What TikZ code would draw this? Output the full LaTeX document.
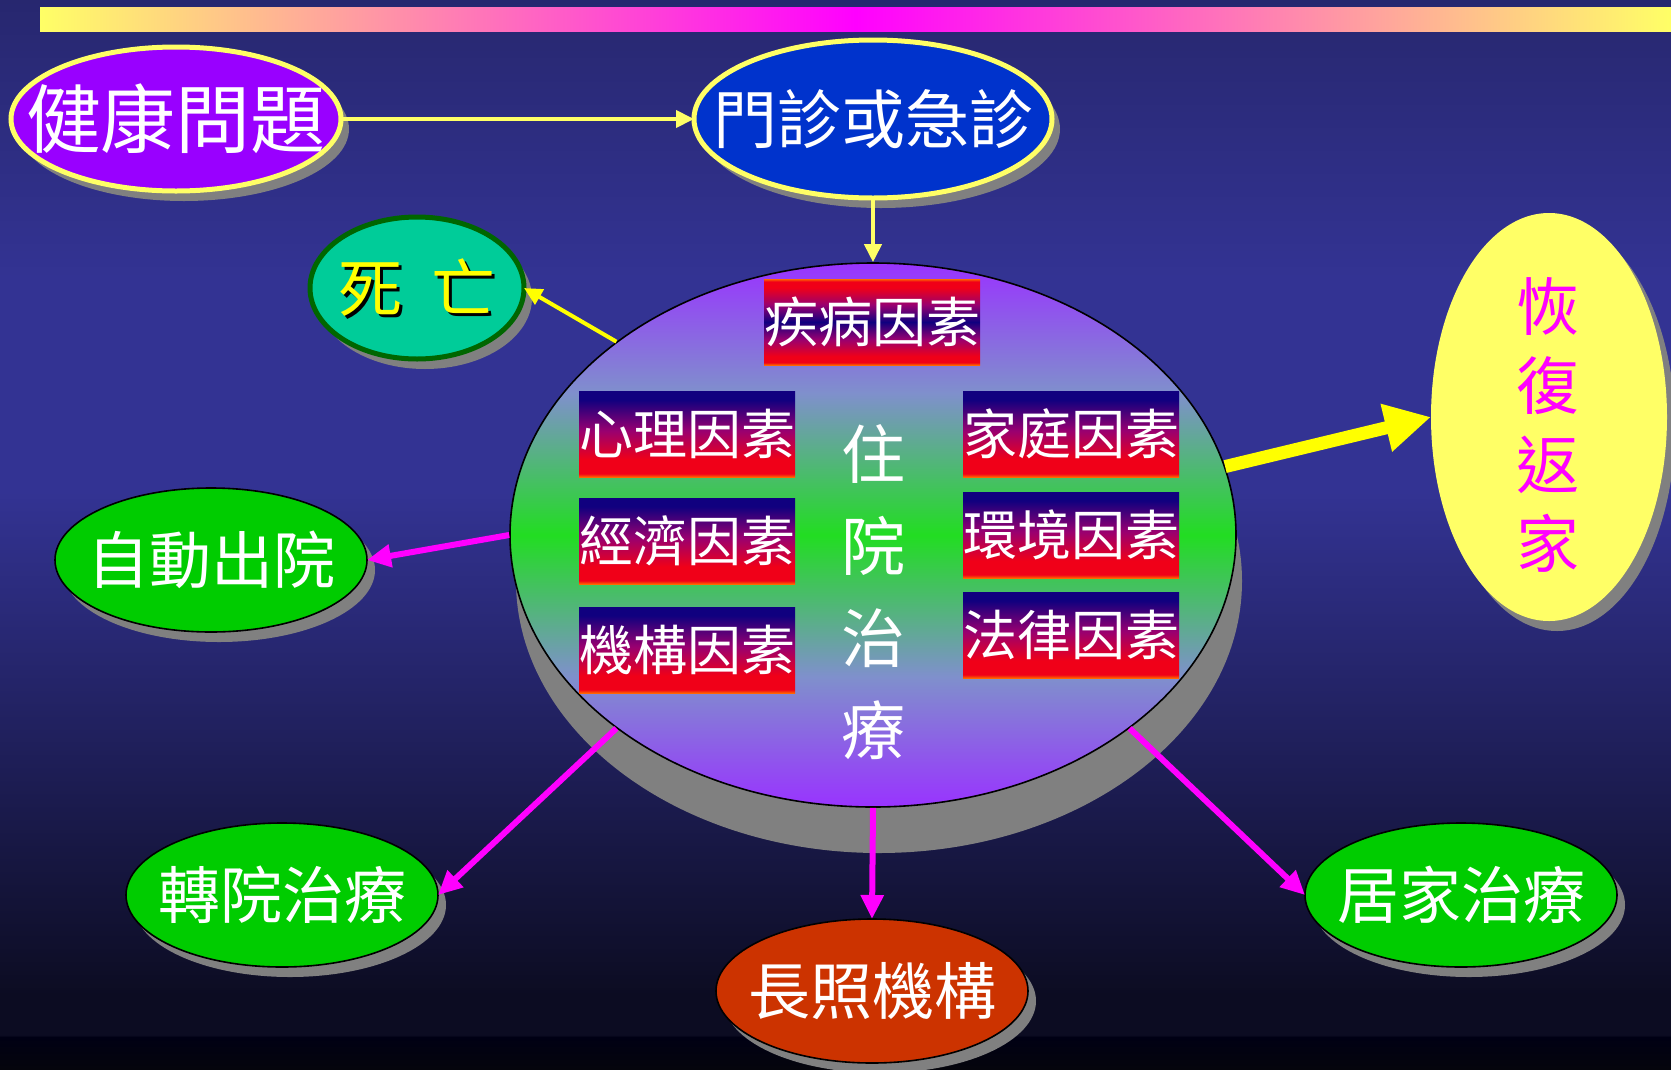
\documentclass[tikz,border=0pt]{standalone}
\usepackage{fontspec}
\newfontfamily\cjk{Noto Sans CJK TC}
\usetikzlibrary{arrows.meta,shapes.geometric,shadows}
\definecolor{bgA}{HTML}{27276F}
\definecolor{bgB}{HTML}{333393}
\definecolor{bgC}{HTML}{1F1F5A}
\definecolor{bgD}{HTML}{0C0C22}
\definecolor{bgE}{HTML}{000014}
\definecolor{bgF}{HTML}{05050C}
\definecolor{ylw}{HTML}{FFFF66}
\definecolor{ylwB}{HTML}{FFFF00}
\definecolor{mag}{HTML}{FF00FF}
\definecolor{purpFill}{HTML}{9900FF}
\definecolor{blueFill}{HTML}{0033CC}
\definecolor{deathFill}{HTML}{00CC99}
\definecolor{deathLine}{HTML}{006600}
\definecolor{grnFill}{HTML}{00CC00}
\definecolor{ltcFill}{HTML}{CC3300}
\definecolor{shGray}{HTML}{808080}
\definecolor{hPurp}{HTML}{9933FF}
\definecolor{hBlue}{HTML}{7F90CC}
\definecolor{hGreen}{HTML}{22DD22}
\definecolor{fOr}{HTML}{FF6600}
\definecolor{fRed}{HTML}{F00018}
\definecolor{fMag}{HTML}{990070}
\definecolor{fNavy}{HTML}{10007F}
\pgfdeclareverticalshading{bgshade}{100bp}{color(0bp)=(bgF); color(25bp)=(bgF); color(26.5bp)=(bgE); color(26.6bp)=(bgD); color(28.5bp)=(bgD); color(40bp)=(bgC); color(52bp)=(bgB); color(62bp)=(bgB); color(75bp)=(bgA); color(100bp)=(bgA)}
\pgfdeclareverticalshading{hospshade}{100bp}{color(0bp)=(hPurp); color(25bp)=(hPurp); color(37bp)=(hBlue); color(50bp)=(hGreen); color(63bp)=(hBlue); color(75bp)=(hPurp); color(100bp)=(hPurp)}
\pgfdeclareverticalshading{facshade}{100bp}{color(0bp)=(fOr); color(25bp)=(fOr); color(27bp)=(fRed); color(35bp)=(fRed); color(52bp)=(fMag); color(70bp)=(fNavy); color(100bp)=(fNavy)}
\pgfdeclareverticalshading{disshade}{100bp}{color(0bp)=(fOr); color(25bp)=(fOr); color(26.5bp)=(fRed); color(30bp)=(fRed); color(40bp)=(fMag); color(50bp)=(fNavy); color(60bp)=(fMag); color(70bp)=(fRed); color(73.5bp)=(fRed); color(75bp)=(fOr); color(100bp)=(fOr)}
\tikzset{
  bubble/.style={ellipse, inner sep=0pt, outer sep=0pt,
    drop shadow={shadow xshift=8pt, shadow yshift=-10pt, opacity=1, fill=shGray}},
  bigtxt/.style={text=white, font=\cjk\fontsize{75}{75}\selectfont, inner sep=0pt},
  midtxt/.style={text=white, font=\cjk\fontsize{62}{62}\selectfont, inner sep=0pt},
  factor/.style={rectangle, minimum width=213pt, minimum height=86pt, inner sep=0pt,
    shading=facshade, text=white, font=\cjk\fontsize{54}{54}\selectfont},
  thinarrow/.style={draw=ylw, line width=4pt, -{Triangle[length=18pt,width=17pt]}},
  magarrow/.style={draw=mag, line width=6pt, -{Triangle[length=24pt,width=22pt]}},
}
\begin{document}
\begin{tikzpicture}[x=1pt,y=-1pt]
\useasboundingbox (0,0) rectangle (1671,1069);
\shade[shading=bgshade] (0,0) rectangle (1671,1069);
\shade[left color=ylw, right color=ylw, middle color=mag] (40,7) rectangle (1671,31);

% big hospital ellipse
\node[ellipse, inner sep=0pt, minimum width=726pt, minimum height=544pt,
  shading=hospshade, draw=black, line width=1.6pt,
  drop shadow={shadow xshift=6pt, shadow yshift=-46pt, opacity=1, fill=shGray}] (hosp) at (873,535) {};

% top nodes
\node[bubble, minimum width=330pt, minimum height=144pt, fill=purpFill, draw=ylw, line width=5pt,
  label={[bigtxt]center:健康問題}] (health) at (176,119) {};
\node[bubble, minimum width=358pt, minimum height=158pt, fill=blueFill, draw=ylw, line width=5pt,
  label={[text=white, font=\cjk\fontsize{64}{64}\selectfont, inner sep=0pt]center:門診或急診}] (clinic) at (873,119) {};
\node[bubble, minimum width=214pt, minimum height=142pt, fill=deathFill, draw=deathLine, line width=5pt,
  label={[text=black, font=\cjk\fontsize{64}{64}\selectfont, inner sep=0pt, xshift=3pt, yshift=-3pt]center:死\hspace{0.45em}亡},
  label={[text=ylwB, font=\cjk\fontsize{64}{64}\selectfont, inner sep=0pt]center:死\hspace{0.45em}亡}] (death) at (417,288) {};

% recovery
\node[bubble, minimum width=236pt, minimum height=408pt, fill=ylw] (recover) at (1549,417) {};
\node[text=mag, font=\cjk\fontsize{63}{79}\selectfont, align=center, inner sep=0pt] (rectext) at (1548,425) {恢\\復\\返\\家};

% outcome nodes
\node[bubble, minimum width=312pt, minimum height=144pt, fill=grnFill, draw=black, line width=1.6pt,
  label={[midtxt]center:自動出院}] (auto) at (211,560) {};
\node[bubble, minimum width=312pt, minimum height=144pt, fill=grnFill, draw=black, line width=1.6pt,
  label={[midtxt]center:轉院治療}] (transfer) at (282,895) {};
\node[bubble, minimum width=312pt, minimum height=144pt, fill=ltcFill, draw=black, line width=1.6pt,
  label={[midtxt]center:長照機構}] (ltc) at (872,991) {};
\node[bubble, minimum width=312pt, minimum height=144pt, fill=grnFill, draw=black, line width=1.6pt,
  label={[midtxt]center:居家治療}] (home) at (1461,895) {};

% factor boxes
\node[factor, shading=disshade] (disease) at (872,322) {疾病因素};
\node[factor] (psych) at (687,434) {心理因素};
\node[factor] (econ) at (687,541) {經濟因素};
\node[factor] (inst) at (687,650) {機構因素};
\node[factor] (family) at (1071,434) {家庭因素};
\node[factor] (env) at (1071,535) {環境因素};
\node[factor] (law) at (1071,635) {法律因素};
\node[text=white, font=\cjk\fontsize{64}{92}\selectfont, align=center, inner sep=0pt] (hosptext) at (873,592) {住\\院\\治\\療};

% connectors
\draw[thinarrow] (health) -- (clinic);
\draw[thinarrow] (clinic) -- (hosp);
\draw[draw=ylwB, line width=4pt, -{Triangle[length=18pt,width=17pt]}] (hosp.143) -- (death.east);
\draw[draw=ylwB, line width=13pt, -{Triangle[length=46pt,width=46pt]}] (hosp.11) -- (recover.west);
\draw[magarrow] (hosp.west) -- (auto.east);
\draw[magarrow] (hosp.217) -- (transfer.east);
\draw[magarrow] (hosp.south) -- (ltc.north);
\draw[magarrow] (hosp.323) -- (home.west);
\end{tikzpicture}
\end{document}
